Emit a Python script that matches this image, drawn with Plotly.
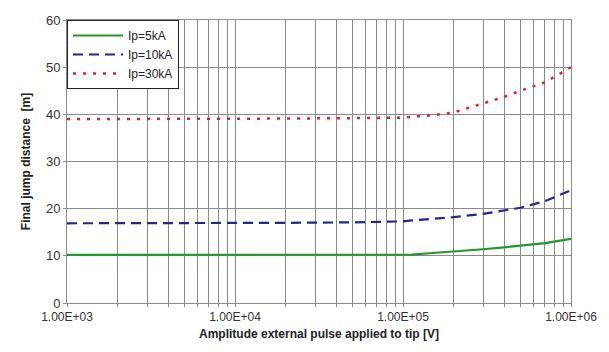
import plotly.graph_objects as go

x_vals = [1e3, 2e3, 5e3, 1e4, 2e4, 5e4, 1e5, 1.13e5, 1.5e5, 2e5, 3e5, 4e5, 5e5, 7e5, 1e6]
ip5 = [10.2, 10.2, 10.2, 10.2, 10.2, 10.2, 10.2, 10.25, 10.6, 10.9, 11.4, 11.8, 12.1, 12.7, 13.6]
ip10 = [16.9, 16.9, 16.9, 16.9, 17.0, 17.1, 17.3, 17.5, 17.8, 18.2, 18.9, 19.6, 20.2, 21.6, 23.9]
ip30 = [39.0, 39.0, 39.0, 39.0, 39.1, 39.2, 39.3, 39.5, 39.8, 40.4, 42.3, 43.7, 45.0, 46.8, 50.0]

decades = [3, 4, 5, 6]
tick_vals = []
tick_text = []
for d in decades:
    for k in range(1, 10):
        if d == 6 and k > 1:
            break
        tick_vals.append(k * 10 ** d)
        tick_text.append(f"1.00E+0{d}" if k == 1 else "")

fig = go.Figure()
fig.add_trace(go.Scatter(x=x_vals, y=ip5, mode="lines", name="Ip=5kA",
                         line=dict(color="#1c9a2a", width=2.2)))
fig.add_trace(go.Scatter(x=x_vals, y=ip10, mode="lines", name="Ip=10kA",
                         line=dict(color="#25258f", width=2.2, dash="10px,6px")))
fig.add_trace(go.Scatter(x=x_vals, y=ip30, mode="lines", name="Ip=30kA",
                         line=dict(color="#e8202c", width=2.5, dash="3px,7px")))

fig.update_layout(
    width=609, height=352,
    margin=dict(l=67, r=38, t=20, b=49),
    paper_bgcolor="white", plot_bgcolor="white",
    font=dict(family="Liberation Sans, Arial", size=12, color="#222"),
    showlegend=True,
    legend=dict(x=0, y=1, xanchor="left", yanchor="top",
                bgcolor="white", bordercolor="#222", borderwidth=1,
                font=dict(size=12, color="#222"),
                tracegroupgap=0, itemwidth=50),
    xaxis=dict(type="log", range=[3, 6], tickvals=tick_vals, ticktext=tick_text,
               showgrid=True, gridcolor="#8a8a8a", gridwidth=1,
               showline=True, linecolor="#8a8a8a", mirror=True,
               ticks="outside", ticklen=3, tickcolor="#8a8a8a",
               tickfont=dict(size=12, color="#333"),
               title=dict(text="<b>Amplitude external pulse applied to tip [V]</b>",
                          font=dict(size=12, color="#222"), standoff=6),
               zeroline=False),
    yaxis=dict(range=[0, 60], dtick=10, showgrid=True, gridcolor="#8a8a8a", gridwidth=1,
               showline=True, linecolor="#8a8a8a", mirror=True,
               ticks="outside", ticklen=3, tickcolor="#8a8a8a",
               tickfont=dict(size=13, color="#333"),
               title=dict(text="<b>Final jump distance  [m]</b>",
                          font=dict(size=12, color="#222"), standoff=12),
               zeroline=False),
)

fig.write_html("out.html")
